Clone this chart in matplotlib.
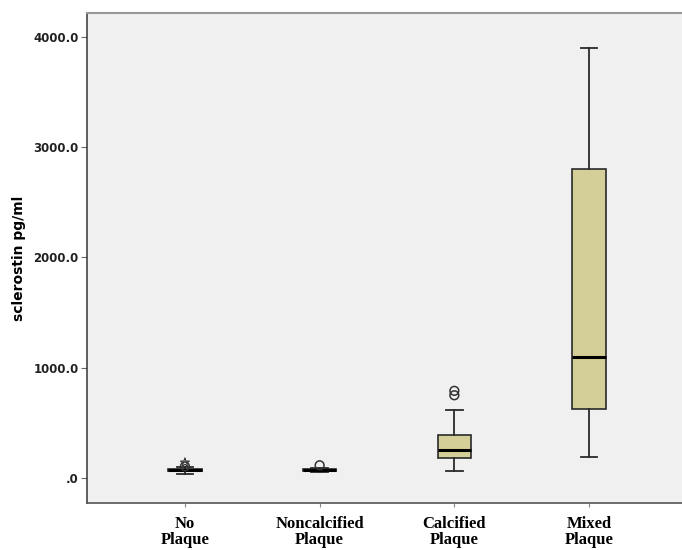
import matplotlib
matplotlib.use("Agg")
import matplotlib.pyplot as plt

categories = ["No\nPlaque", "Noncalcified\nPlaque", "Calcified\nPlaque", "Mixed\nPlaque"]
whisker_low = [40, 55, 63, 190]
q1 = [65, 62, 181, 626]
median = [75, 70, 254, 1097]
q3 = [85, 80, 390, 2802]
whisker_high = [100, 88, 617, 3899]
outliers_circle = [[105], [115], [750, 790], []]
outliers_star = [[140], [], [], []]
yticks = [0, 1000, 2000, 3000, 4000]
ytick_labels = [".0", "1000.0", "2000.0", "3000.0", "4000.0"]

fig = plt.figure(figsize=(6.82, 5.5), dpi=100)
ax = fig.add_axes([87/682, 47/550, 1 - 87/682, 490/550])
ax.set_facecolor("#F0F0F0")

stats = []
for i in range(len(categories)):
    stats.append(dict(med=median[i], q1=q1[i], q3=q3[i], whislo=whisker_low[i],
                      whishi=whisker_high[i], fliers=[], label=categories[i]))
positions = list(range(1, len(categories) + 1))
ax.bxp(stats, positions=positions, widths=0.25, patch_artist=True, showfliers=False,
       boxprops=dict(facecolor="#D4CF98", edgecolor="#2a2a2a", linewidth=1.2),
       medianprops=dict(color="black", linewidth=2.2),
       whiskerprops=dict(color="#2a2a2a", linewidth=1.3),
       capprops=dict(color="#2a2a2a", linewidth=1.3),
       capwidths=0.125)

for i, p in enumerate(positions):
    if outliers_circle[i]:
        ax.scatter([p] * len(outliers_circle[i]), outliers_circle[i], s=40,
                   facecolors="none", edgecolors="#333333", linewidths=1.1, zorder=5)
    if outliers_star[i]:
        ax.scatter([p] * len(outliers_star[i]), outliers_star[i], s=45, marker="*",
                   facecolors="none", edgecolors="#333333", linewidths=0.8, zorder=5)

ax.set_xlim(0.273, 4.69)
ax.set_ylim(-227, 4216)
ax.set_yticks(yticks)
ax.set_yticklabels(ytick_labels, fontsize=8.5, fontweight="bold", color="#222222")
ax.set_xticks(positions)
ax.set_xticklabels(categories, fontsize=12, fontweight="bold",
                   family="Liberation Serif", linespacing=1.05)
ax.tick_params(axis="y", length=4, width=0.8, color="#666666", pad=2)
ax.tick_params(axis="x", length=3, width=0.8, color="#888888", pad=6)
ax.set_ylabel("sclerostin pg/ml", fontsize=10, fontweight="bold", labelpad=5)

ax.spines["right"].set_visible(False)
ax.spines["top"].set_color("#999999")
ax.spines["top"].set_linewidth(1.5)
ax.spines["left"].set_color("#444444")
ax.spines["left"].set_linewidth(1.2)
ax.spines["bottom"].set_color("#555555")
ax.spines["bottom"].set_linewidth(1.2)

fig.savefig("out.png", dpi=100)
